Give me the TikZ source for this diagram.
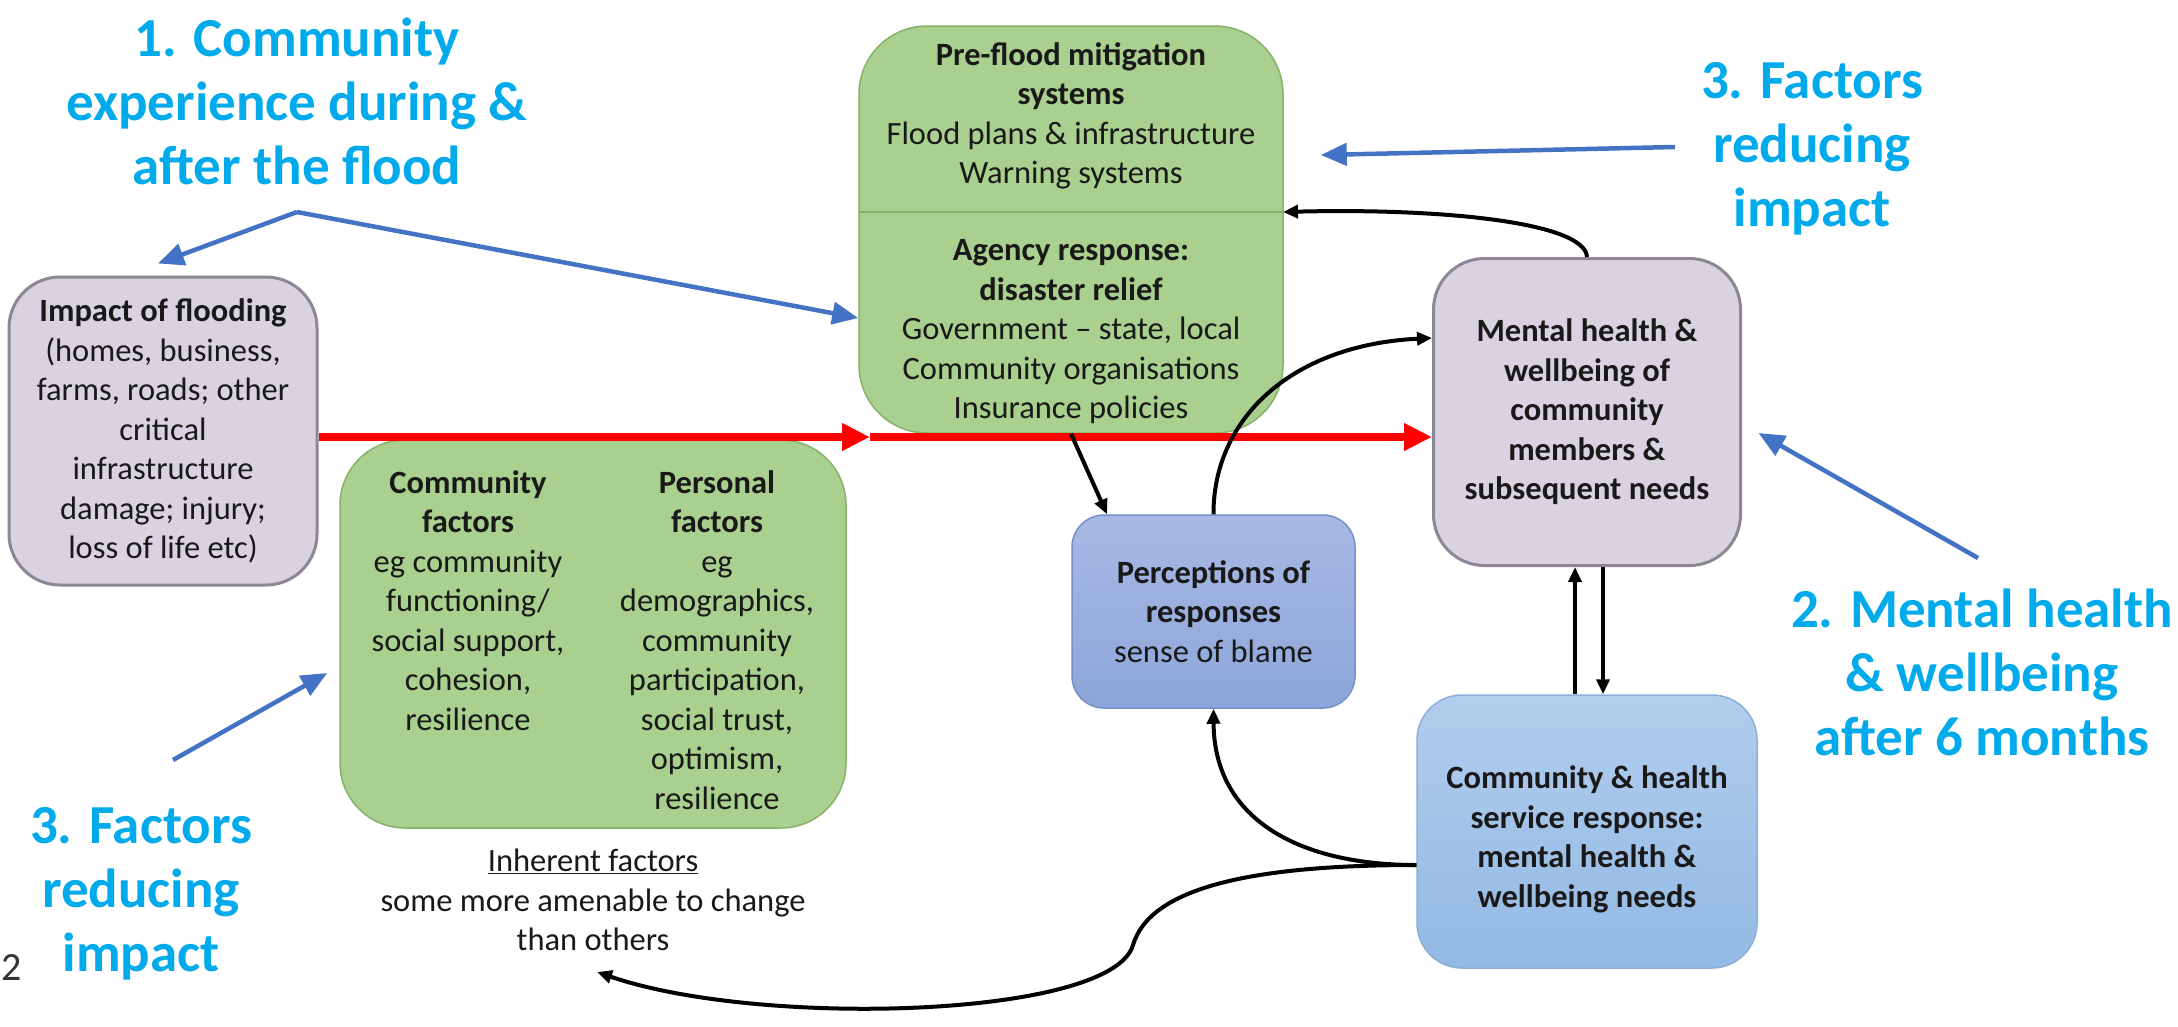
\documentclass[tikz,border=0pt]{standalone}
\usepackage{fontspec}
\setmainfont{Carlito}
\usetikzlibrary{arrows.meta,calc}
\definecolor{titlecyan}{RGB}{0,170,235}
\definecolor{arrowblue}{RGB}{68,114,196}
\definecolor{lavfill}{RGB}{217,211,225}
\definecolor{lavdraw}{RGB}{140,135,148}
\definecolor{grnfill}{RGB}{169,208,142}
\definecolor{grndraw}{RGB}{135,178,106}
\definecolor{perctop}{RGB}{168,184,228}
\definecolor{percbot}{RGB}{140,166,218}
\definecolor{percdraw}{RGB}{120,144,200}
\definecolor{chtop}{RGB}{178,205,237}
\definecolor{chbot}{RGB}{146,185,228}
\definecolor{chdraw}{RGB}{140,175,215}
\definecolor{txt}{RGB}{25,25,25}
\definecolor{redline}{RGB}{255,0,0}
\begin{document}
\begin{tikzpicture}[x=1pt,y=-1pt,
  body/.style={font=\fontsize{32.5}{39.5}\selectfont, text=txt, align=center, inner sep=0pt},
  ttl/.style={font=\fontsize{55}{64}\selectfont\bfseries, text=titlecyan, align=center, inner sep=0pt},
  rbox/.style={inner sep=0pt, align=center, text=txt, rounded corners=#1},
  lavbox/.style={rbox=51pt, fill=lavfill, draw=lavdraw, line width=3pt},
  grnbox/.style={rbox=#1, fill=grnfill, draw=grndraw, line width=1.5pt},
  percbox/.style={rbox=32pt, top color=perctop, bottom color=percbot, draw=percdraw, line width=1.5pt},
  chbox/.style={rbox=45pt, top color=chtop, bottom color=chbot, draw=chdraw, line width=1.5pt},
  bluearr/.style={draw=arrowblue, line width=4.5pt, -{Triangle[length=26pt,width=22pt]}},
  redarr/.style={draw=redline, line width=8pt, -{Triangle[length=28pt,width=26pt]}},
  blkarr/.style={draw=black, line width=4pt, -{Triangle[length=15pt,width=13pt]}}
]
\useasboundingbox (0,0) rectangle (2178,1026);
\fill[white] (0,0) rectangle (2178,1026);

% boxes
\node[lavbox, font=\fontsize{32.5}{39.5}\selectfont, minimum width=308pt, minimum height=308pt] (impact) at (163,431)
  {\textbf{Impact of flooding}\\(homes, business,\\farms, roads; other\\critical\\infrastructure\\damage; injury;\\loss of life etc)};

\node[grnbox=68pt, minimum width=424pt, minimum height=407pt] (pre) at (1071,229.5) {};
\coordinate (divL) at (859,212);
\coordinate (divR) at (1283,212);
\draw[grndraw, line width=1.5pt] (divL) -- (divR);
\node[body] (pretop) at (1071,116) {\textbf{Pre-flood mitigation}\\\textbf{systems}\\Flood plans \& infrastructure\\Warning systems};
\node[body] (prebot) at (1071,332) {\textbf{Agency response:}\\\textbf{disaster relief}\\Government -- state, local\\Community organisations\\Insurance policies};

\node[grnbox=65pt, minimum width=506pt, minimum height=388pt] (fac) at (593,634) {};
\node[body, anchor=north] (faccom) at (468,470) {\textbf{Community}\\\textbf{factors}\\eg community\\functioning/\\social support,\\cohesion,\\resilience};
\node[body, anchor=north] (facper) at (717,470) {\textbf{Personal}\\\textbf{factors}\\eg\\demographics,\\community\\participation,\\social trust,\\optimism,\\resilience};
\node[body] (inh) at (593,900) {\underline{Inherent factors}\\some more amenable to change\\than others};

\node[percbox, font=\fontsize{32.5}{39.5}\selectfont, minimum width=283pt, minimum height=193pt] (perc) at (1213.5,611.5)
  {\textbf{Perceptions of}\\\textbf{responses}\\sense of blame};

\node[lavbox, font=\fontsize{32.5}{39.5}\selectfont\bfseries, minimum width=307pt, minimum height=307pt] (mh) at (1587,412)
  {Mental health \&\\wellbeing of\\community\\members \&\\subsequent needs};

\node[chbox, font=\fontsize{32.5}{39.5}\selectfont\bfseries, minimum width=340pt, minimum height=273pt] (ch) at (1587,831.5)
  {\rule{0pt}{38pt}Community \& health\\service response:\\mental health \&\\wellbeing needs};

% titles
\node[ttl] (t1) at (297,101) {1. Community\\experience during \&\\after the flood};
\node[ttl] (t3a) at (1812,149) {3. Factors\\reducing\\impact};
\node[ttl] (t2) at (1982,672) {2. Mental health\\\& wellbeing\\after 6 months};
\node[ttl] (t3b) at (141,894) {3. Factors\\reducing\\impact};
\node[font=\fontsize{40}{48}\selectfont, text=black!80, anchor=base east, inner sep=0pt] (pg) at (22,980) {2};

% free ends
\coordinate (f1) at (297,212);
\coordinate (f3) at (1675,147);
\coordinate (f2) at (1978,558);
\coordinate (f3b) at (173,760);
\coordinate (redmid) at (870,437);
\coordinate (loopend) at (597,972);

% blue arrows
\draw[bluearr] (f1) -- ([shift={(-5pt,12pt)}]impact.north);
\draw[bluearr] (f1) -- ([yshift=-88.5pt]pre.west);
\draw[bluearr] (f3) -- ([shift={(37pt,74.5pt)}]pre.east);
\draw[bluearr] (f2) -- ([shift={(16.5pt,-21pt)}]mh.east);
\draw[bluearr] (f3b) -- ([shift={(-12pt,-39pt)}]fac.west);

% red arrow
\draw[redarr] (impact.east |- redmid) -- (redmid);
\draw[redarr] (redmid) -- (mh.west |- redmid);

% black arrows
\draw[blkarr] (pre.south) -- ([xshift=-106.5pt]perc.north);
\draw[blkarr] (perc.north) .. controls (1213,420) and (1290,345) .. ([yshift=74pt]mh.west);
\draw[blkarr] (mh.north) .. controls (1585,222) and (1440,208) .. (divR);
\draw[blkarr] ([xshift=-12pt]ch.north) -- ([xshift=-12pt]mh.south);
\draw[blkarr] ([xshift=16pt]mh.south) -- ([xshift=16pt]ch.north);
\draw[blkarr] ([yshift=-33.5pt]ch.west) .. controls (1300,865) and (1214,820) .. (perc.south);
\draw[blkarr] ([yshift=-33.5pt]ch.west) .. controls (1250,865) and (1150,888) .. (1133,945)
  .. controls (1112,1018) and (760,1028) .. (loopend);
\end{tikzpicture}
\end{document}
